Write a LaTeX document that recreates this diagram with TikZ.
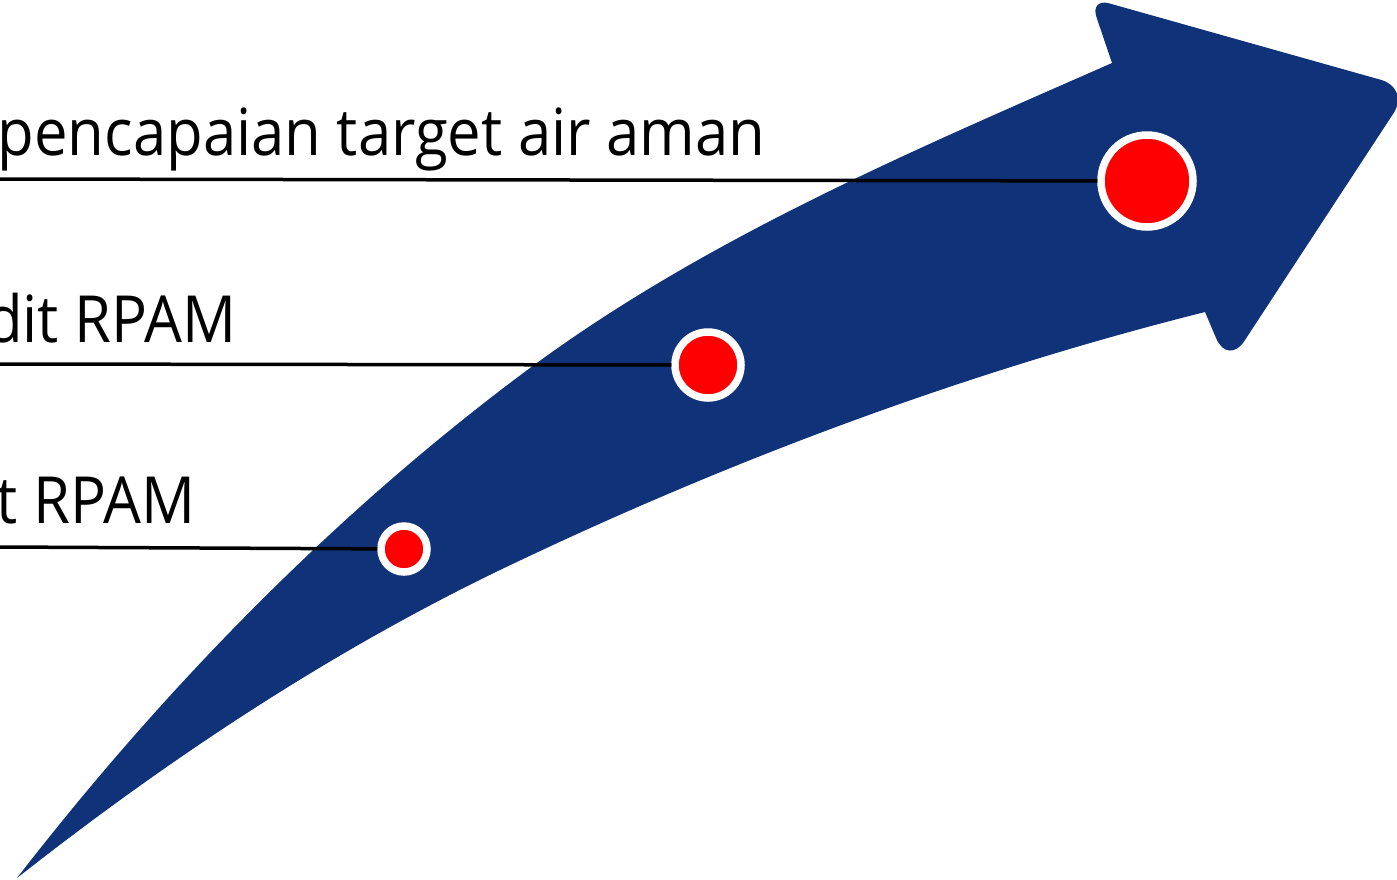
\documentclass[tikz,border=0pt]{standalone}
\usepackage{fontspec}
\setmainfont[FakeStretch=0.92]{Open Sans}
\usetikzlibrary{
    calc,
    positioning
}
\definecolor{arrowblue}{RGB}{15,50,121}
\definecolor{dotred}{RGB}{255,0,0}
\tikzset{
  every path/.style={
    line width=3.5pt
  },
  dot/.style={
    circle,
    draw=white,
    fill=dotred,
    line width=7.5pt,
    inner sep=0pt
  },
  label text/.style={
    anchor=base east,
    inner sep=0pt,
    font=\fontsize{65}{78}\selectfont
  }
}

\begin{document}
\begin{tikzpicture}[x=1pt,y=-1pt]
\useasboundingbox (0,0) rectangle (1397,879);
% curved arrow
\fill[arrowblue] (17,878) .. controls (164,688) and (337,511) .. (530,368)
  .. controls (706,238) and (912,151) .. (1112,63)
  -- (1096.4,16.9) .. controls (1092.9,6.5) and (1098.7,0.4) .. (1109.3,3.4)
  -- (1381.1,79.9) .. controls (1397,84.4) and (1402.6,99.3) .. (1393.6,113.1)
  -- (1244.4,340.9) .. controls (1235.4,354.7) and (1222.7,353.6) .. (1216.2,338.4)
  -- (1205,312) .. controls (962,373) and (725,462) .. (500,570)
  .. controls (328,653) and (167,760) .. (17,878) -- cycle;
% labels
\node[label text] (t1) at (767,155) {pencapaian target air aman};
\node[label text] (t2) at (238,342) {dit RPAM};
\node[label text] (t3) at (197,523) {t RPAM};
% dots and leader lines
\foreach \n/\x/\y/\d/\ly in {1/1147/181/92/179, 2/708/365/66/364, 3/404/549/46/547} {
  \node[dot, minimum size=\d pt] (c\n) at (\x,\y) {};
  \coordinate (s\n) at (0,\ly);
  \draw (s\n) -- (c\n);
}
\end{tikzpicture}
\end{document}
